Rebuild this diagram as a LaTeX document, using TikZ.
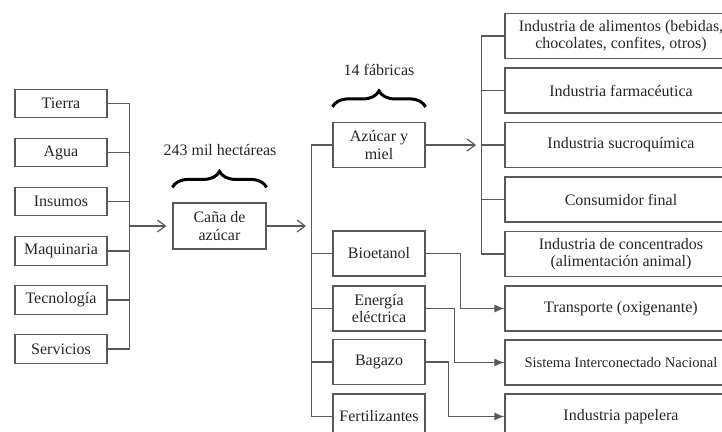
\documentclass[tikz,border=0pt]{standalone}
\usepackage{fontspec}
\setmainfont{Liberation Serif}
\usetikzlibrary{arrows.meta,decorations.pathreplacing}
\begin{document}
\begin{tikzpicture}[x=0.5pt,y=-0.5pt,
  font=\fontsize{8}{8.6}\selectfont,
  line width=0.6pt, color=black!65, text=black!85,
  small/.style={draw, minimum width=46pt, minimum height=14.3pt, inner sep=1pt},
  mid/.style={draw, minimum width=46pt, minimum height=22.5pt, align=center, inner sep=1pt},
  wide/.style={draw, minimum width=116pt, minimum height=22.5pt, align=center, inner sep=1pt},
  tight/.style={font=\fontsize{7.3}{8.6}\selectfont},
  barb/.style={-{Straight Barb[length=4pt,width=6pt]}, shorten >=3pt},
  feed/.style={-{Latex[length=5pt,width=4pt]}},
  brc/.style={decorate, decoration={brace,amplitude=8pt}, line width=1.5pt, draw=black}]
\useasboundingbox (0,0) rectangle (722,432);
\clip (0,0) rectangle (722,432);
\node[small] (tierra)  at (61,103.5) {Tierra};
\node[small] (agua)    at (61,152.5) {Agua};
\node[small] (insumos) at (61,201.5) {Insumos};
\node[small] (maq)     at (61,251)   {Maquinaria};
\node[small] (tecno)   at (61,300)   {Tecnología};
\node[small] (serv)    at (61,349)   {Servicios};
\node[mid, minimum width=46.5pt, minimum height=23pt] (cana) at (219.5,226) {Caña de\\azúcar};
\node (hect) at (220,150) {243 mil hectáreas};
\node (fabr) at (379,70) {14 fábricas};
\node[mid] (azucar)  at (379,145)   {Azúcar y\\miel};
\node[mid] (bioet)   at (379,253.5) {Bioetanol};
\node[mid] (energia) at (379,308.5) {Energía\\eléctrica};
\node[mid] (bagazo)  at (379,362)   {Bagazo};
\node[mid] (fert)    at (379,416.5) {Fertilizantes};
\node[wide] (alim)   at (621,36)    {Industria de alimentos (bebidas,\\chocolates, confites, otros)};
\node[wide] (farm)   at (621,90.5)  {Industria farmacéutica};
\node[wide] (sucro)  at (621,145)   {Industria sucroquímica};
\node[wide] (consum) at (621,199.5) {Consumidor final};
\node[wide] (conc)   at (621,254)   {Industria de concentrados\\(alimentación animal)};
\node[wide] (transp) at (621,308.5) {Transporte (oxigenante)};
\node[wide, tight] (sin) at (621,362.5) {Sistema Interconectado Nacional};
\node[wide] (papel)  at (621,416.5) {Industria papelera};
\coordinate (j1) at (129,226);
\coordinate (j2) at (312,226);
\coordinate (j3) at (482,145);
\draw (tierra.east) -- ++(22,0) |- (serv.east);
\foreach \n in {agua,insumos,maq,tecno} \draw (\n.east) -- ++(22,0);
\draw[barb] (j1) -- (cana.west);
\draw[barb] (cana.east) -- (j2);
\draw (azucar.west) -- ++(-21,0) |- (fert.west);
\foreach \n in {bioet,energia,bagazo} \draw (\n.west) -- ++(-21,0);
\draw[barb] (azucar.east) -- (j3);
\draw (alim.west) -- ++(-23,0) |- (conc.west);
\foreach \n in {farm,sucro,consum} \draw (\n.west) -- ++(-23,0);
\draw[feed] (bioet.east) -- ++(35,0) |- (transp.west);
\draw[feed] (energia.east) -- ++(29,0) |- (sin.west);
\draw[feed] (bagazo.east) -- ++(23,0) |- (papel.west);
\draw[brc] ([yshift=7.5pt]cana.north west) -- ([yshift=7.5pt]cana.north east);
\draw[brc] ([yshift=7.5pt]azucar.north west) -- ([yshift=7.5pt]azucar.north east);
\end{tikzpicture}
\end{document}
